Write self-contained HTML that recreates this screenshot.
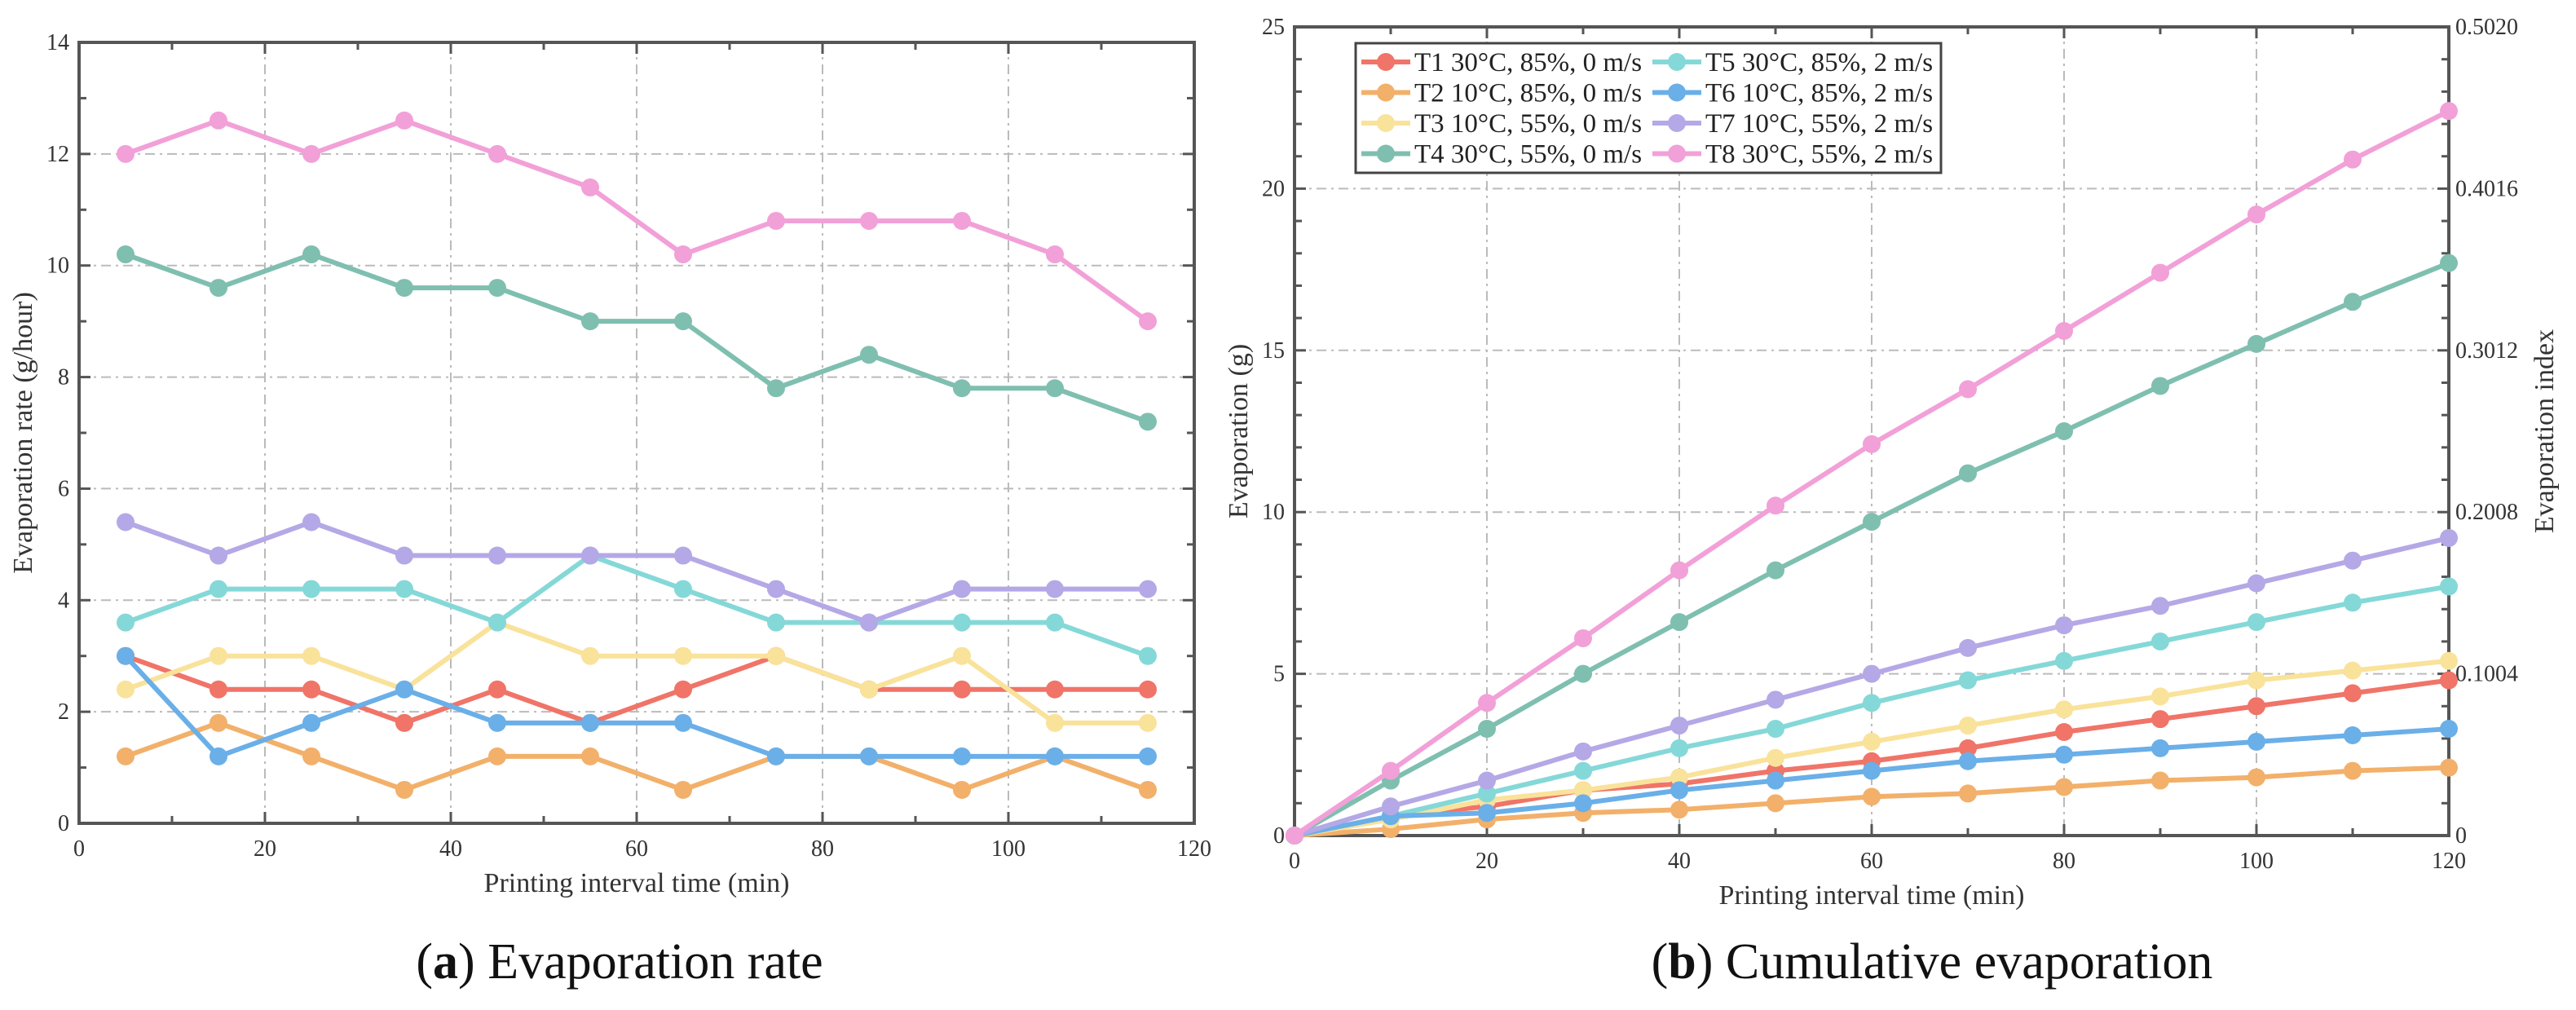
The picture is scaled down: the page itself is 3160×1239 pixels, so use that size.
<!DOCTYPE html>
<html><head><meta charset="utf-8"><style>
html,body{margin:0;padding:0;background:#fff;}
svg{display:block;font-family:"Liberation Serif",serif;}
</style></head>
<body>
<svg id="fig" width="3160" height="1239" viewBox="0 0 3160 1239" xmlns="http://www.w3.org/2000/svg"></svg>
<script>
const seriesNames = ["T1","T2","T3","T4","T5","T6","T7","T8"];
const seriesLabels = ["T1  30\u00B0C, 85%, 0 m/s","T2  10\u00B0C, 85%, 0 m/s","T3  10\u00B0C, 55%, 0 m/s","T4  30\u00B0C, 55%, 0 m/s","T5  30\u00B0C, 85%, 2 m/s","T6  10\u00B0C, 85%, 2 m/s","T7  10\u00B0C, 55%, 2 m/s","T8  30\u00B0C, 55%, 2 m/s"];
const colors = ["#f07468","#f2b06a","#f9e29a","#7fbfb0","#85d8d8","#6aafe8","#b5a8e6","#f2a0d8"];
const rateX = [5,15,25,35,45,55,65,75,85,95,105,115];
const rateT1 = [3,2.4,2.4,1.8,2.4,1.8,2.4,3,2.4,2.4,2.4,2.4];
const rateT2 = [1.2,1.8,1.2,0.6,1.2,1.2,0.6,1.2,1.2,0.6,1.2,0.6];
const rateT3 = [2.4,3,3,2.4,3.6,3,3,3,2.4,3,1.8,1.8];
const rateT4 = [10.2,9.6,10.2,9.6,9.6,9,9,7.8,8.4,7.8,7.8,7.2];
const rateT5 = [3.6,4.2,4.2,4.2,3.6,4.8,4.2,3.6,3.6,3.6,3.6,3.0];
const rateT6 = [3,1.2,1.8,2.4,1.8,1.8,1.8,1.2,1.2,1.2,1.2,1.2];
const rateT7 = [5.4,4.8,5.4,4.8,4.8,4.8,4.8,4.2,3.6,4.2,4.2,4.2];
const rateT8 = [12,12.6,12,12.6,12,11.4,10.2,10.8,10.8,10.8,10.2,9];
const cumX = [0,10,20,30,40,50,60,70,80,90,100,110,120];
const cumT1 = [0,0.6,0.9,1.4,1.6,2,2.3,2.7,3.2,3.6,4,4.4,4.8];
const cumT2 = [0,0.2,0.5,0.7,0.8,1,1.2,1.3,1.5,1.7,1.8,2,2.1];
const cumT3 = [0,0.5,1.1,1.4,1.8,2.4,2.9,3.4,3.9,4.3,4.8,5.1,5.4];
const cumT4 = [0,1.7,3.3,5,6.6,8.2,9.7,11.2,12.5,13.9,15.2,16.5,17.7];
const cumT5 = [0,0.6,1.3,2,2.7,3.3,4.1,4.8,5.4,6,6.6,7.2,7.7];
const cumT6 = [0,0.6,0.7,1,1.4,1.7,2,2.3,2.5,2.7,2.9,3.1,3.3];
const cumT7 = [0,0.9,1.7,2.6,3.4,4.2,5,5.8,6.5,7.1,7.8,8.5,9.2];
const cumT8 = [0,2,4.1,6.1,8.2,10.2,12.1,13.8,15.6,17.4,19.2,20.9,22.4];
const xTicks = [0,20,40,60,80,100,120];
const rateYTicks = [0,2,4,6,8,10,12,14];
const cumYTicks = [0,5,10,15,20,25];
const indexTickLabels = ["0","0.1004","0.2008","0.3012","0.4016","0.5020"];

const rateSeries = [rateT1,rateT2,rateT3,rateT4,rateT5,rateT6,rateT7,rateT8];
const cumSeries = [cumT1,cumT2,cumT3,cumT4,cumT5,cumT6,cumT7,cumT8];
const NS = "http://www.w3.org/2000/svg";
const svg = document.getElementById('fig');
function mk(tag, attrs, parent, text){
  const e = document.createElementNS(NS, tag);
  for (const k in attrs) e.setAttribute(k, attrs[k]);
  if (text !== undefined) e.textContent = text;
  (parent||svg).appendChild(e);
  return e;
}
function panel(cfg){
  const g = mk('g',{});
  
  
  const sx = v => cfg.L + (v - 0) / 120 * (cfg.R - cfg.L);
  const sy = v => cfg.B - v / cfg.ymax * (cfg.B - cfg.T);
  xTicks.forEach(t => { if (t>0 && t<120) { const l = mk('line',{x1:sx(t),x2:sx(t),y1:cfg.T,y2:cfg.B,stroke:'#bbb','stroke-width':2,'stroke-dasharray':'12 6 3 6'},g);   }});
  cfg.yTicks.forEach(t => { if (t>0 && t<cfg.ymax) { const l = mk('line',{x1:cfg.L,x2:cfg.R,y1:sy(t),y2:sy(t),stroke:'#bbb','stroke-width':2,'stroke-dasharray':'12 6 3 6'},g);   }});
  for (let t=0;t<=120;t+=10){ const len = t%20===0?14:9;
    mk('line',{x1:sx(t),x2:sx(t),y1:cfg.B,y2:cfg.B-len,stroke:'#555','stroke-width':3},g);
    mk('line',{x1:sx(t),x2:sx(t),y1:cfg.T,y2:cfg.T+len,stroke:'#555','stroke-width':3},g); }
  for (let t=0;t<=cfg.ymax;t+=cfg.minor){ const len = (Math.abs(t/cfg.major-Math.round(t/cfg.major))<1e-6)?14:9;
    mk('line',{x1:cfg.L,x2:cfg.L+len,y1:sy(t),y2:sy(t),stroke:'#555','stroke-width':3},g);
    mk('line',{x1:cfg.R,x2:cfg.R-len,y1:sy(t),y2:sy(t),stroke:'#555','stroke-width':3},g); }
  const fr = mk('rect',{x:cfg.L,y:cfg.T,width:cfg.R-cfg.L,height:cfg.B-cfg.T,fill:'none',stroke:'#555','stroke-width':4},g);
   
  xTicks.forEach(t => { const tx = mk('text',{x:sx(t),y:cfg.B+40,'font-size':28,'text-anchor':'middle',fill:'#333'},g,String(t));   });
  cfg.yTicks.forEach(t => { const tx = mk('text',{x:cfg.L-12,y:sy(t)+9,'font-size':28,'text-anchor':'end',fill:'#333'},g,String(t));   });
  if (cfg.right){ cfg.yTicks.forEach((t,i) => { const tx = mk('text',{x:cfg.R+8,y:sy(t)+9,'font-size':28,'text-anchor':'start',fill:'#333'},g,indexTickLabels[i]);   }); }
  const xt = mk('text',{x:(cfg.L+cfg.R)/2,y:cfg.B+84,'font-size':34,'text-anchor':'middle',fill:'#333'},g,'Printing interval time  (min)');
   
  const yx = cfg.L-58, ymid=(cfg.T+cfg.B)/2;
  const yt = mk('text',{x:yx,y:ymid,'font-size':34,'text-anchor':'middle',fill:'#333',transform:`rotate(-90 ${yx} ${ymid})`},g,cfg.ytitle);
   
  if (cfg.right){ const rx = cfg.R+128;
    const rt = mk('text',{x:rx,y:ymid,'font-size':34,'text-anchor':'middle',fill:'#333',transform:`rotate(-90 ${rx} ${ymid})`},g,'Evaporation index');
      }
  cfg.series.forEach((arr,i) => {
    const sg = mk('g',{},g);
    
    
    const pts = arr.map((v,j)=>sx(cfg.xs[j])+','+sy(v)).join(' ');
    const pl = mk('polyline',{points:pts,fill:'none',stroke:colors[i],'stroke-width':6,'stroke-linejoin':'round'},sg);
    
    
    arr.forEach((v,j)=>{ const c = mk('circle',{cx:sx(cfg.xs[j]),cy:sy(v),r:11,fill:colors[i]},sg);
      
       });
  });
  const cap = mk('text',{x:cfg.capX,y:1200,'font-size':62,'text-anchor':'middle',fill:'#111'},g);
   
  mk('tspan',{},cap,'(');
  mk('tspan',{'font-weight':'bold'},cap,cfg.letter);
  mk('tspan',{},cap,') '+cfg.caption);
  return {g,sx,sy};
}
panel({name:'evaporation-rate-chart',L:97,R:1465,T:52,B:1010,ymax:14,yTicks:rateYTicks,major:2,minor:1,xs:rateX,series:rateSeries,ytitle:'Evaporation rate (g/hour)',capX:760,letter:'a',caption:'Evaporation rate'});
const p2 = panel({name:'cumulative-evaporation-chart',L:1588,R:3004,T:33,B:1025,ymax:25,yTicks:cumYTicks,major:5,minor:1,xs:cumX,series:cumSeries,ytitle:'Evaporation (g)',right:true,capX:2370,letter:'b',caption:'Cumulative evaporation'});
const lg = mk('g',{},p2.g);


mk('rect',{x:1663,y:53,width:718,height:159,fill:'#fff',stroke:'#444','stroke-width':3},lg);
seriesLabels.forEach((lab,i)=>{
  const col = Math.floor(i/4), row = i%4;
  const x0 = col===0?1670:2027, cy = 76+row*37.5;
  const e = mk('g',{},lg);
  
  
  mk('line',{x1:x0,x2:x0+60,y1:cy,y2:cy,stroke:colors[i],'stroke-width':6},e);
  mk('circle',{cx:x0+30,cy:cy,r:11,fill:colors[i]},e);
  mk('text',{x:x0+65,y:cy+11,'font-size':33,fill:'#222','xml:space':'preserve'},e,lab);
});
</script>
</body></html>
